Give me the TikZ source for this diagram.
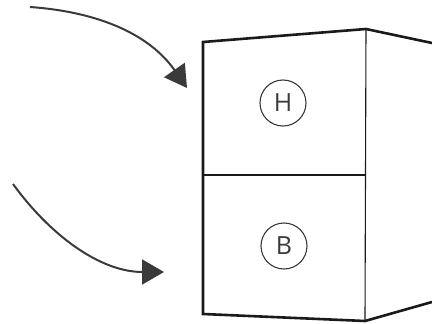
\documentclass[tikz,border=0pt]{standalone}
\usepackage{fontspec}
\setmainfont{Open Sans}
\usetikzlibrary{arrows.meta,positioning}
\definecolor{inkgrey}{HTML}{3A3A3A}
\definecolor{edgeblack}{HTML}{1A1A1A}
\tikzset{%
	outer/.style    = {draw=edgeblack, line width=2.6pt, line join=miter}, % Box outline
	inner/.style    = {draw=edgeblack, line width=1.1pt}, % Inner edges
	mark circ/.style = {draw=inkgrey, circle, line width=1.1pt, minimum size=46pt, inner sep=0pt, text=inkgrey, font=\fontsize{25}{30}\selectfont},
	waypoint/.style = {coordinate},
	arrow/.style    = {draw=inkgrey, line width=2pt, -{Triangle[length=22pt,width=25pt]}},
}
\begin{document}
\begin{tikzpicture}[x=1pt,y=-1pt]
	\useasboundingbox (0,0) rectangle (432,324);
	% box corners
	\coordinate (tl) at (203,42);
	\coordinate (tm) at (366,29);
	\coordinate (tr) at (432,43);
	\coordinate (bl) at (203,314);
	\coordinate (bm) at (365,321);
	\coordinate (br) at (432,302);
	\coordinate (ml) at (203,175);
	\coordinate (mm) at (365.5,175);
	
	\draw[inner] (tm) -- (bm);
	\draw[inner] (ml) -- (mm);
	\draw[outer] (tr) -- (tm) -- (tl) -- (bl) -- (bm) -- (br);
	
	\node [mark circ] (h) at (283,103) {H};
	\node [mark circ] (b) at (284,246) {B};
	
	% incoming arrows
	\node [waypoint] (in1) at (30,7) {};
	\node [waypoint] (tip1) at (187,88) {};
	\node [waypoint] (in2) at (13,184) {};
	\node [waypoint] (tip2) at (164,272) {};
	\draw[arrow] (in1) .. controls (100,12) and (150,35) .. (tip1);
	\draw[arrow] (in2) .. controls (50,235) and (100,272) .. (tip2);
\end{tikzpicture}
\end{document}
